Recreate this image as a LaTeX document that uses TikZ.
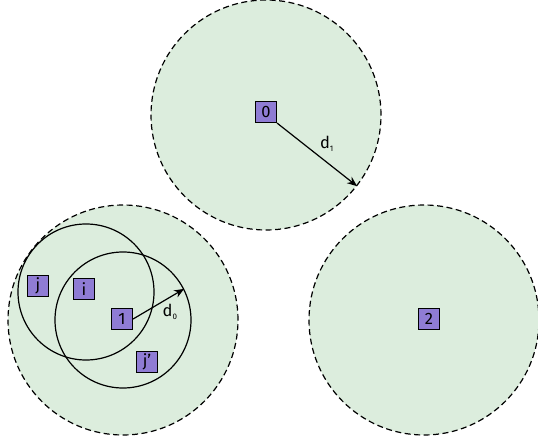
\documentclass[tikz,border=0pt]{standalone}
\usepackage{fontspec}
\setmainfont{Fira Sans}
\usetikzlibrary{arrows.meta}
\definecolor{zonegreen}{RGB}{220,237,221}
\definecolor{cellpurple}{RGB}{143,124,212}
\newcommand{\sub}[1]{\raisebox{-3pt}{\fontsize{8}{8}\selectfont #1}}
\begin{document}
\begin{tikzpicture}[x=1pt,y=-1pt,line width=1.2pt,
    zone/.style={circle,draw,dash pattern=on 6pt off 3.5pt,fill=zonegreen,minimum size=230pt,inner sep=0pt},
    reach/.style={circle,draw,minimum size=136pt,inner sep=0pt},
    cell/.style={draw,fill=cellpurple,minimum size=21pt,inner sep=0pt,font=\fontsize{16.5}{16.5}\selectfont},
    dist/.style={-{Stealth[length=10pt,width=8pt]},line width=1.2pt},
    every node/.style={font=\fontsize{16.5}{16.5}\selectfont}]
  \useasboundingbox (0,0) rectangle (538,444);
  % base stations and their coverage
  \node[zone] (z0) at (266,115) {};
  \node[zone] (z1) at (123,320) {};
  \node[zone] (z2) at (424,320) {};
  % ranges of two users
  \node[reach] (r1) at (86,292) {};
  \node[reach] (r2) at (123,320) {};
  \node[cell] (0) at (266,112) {0};
  \node[cell] (1) at (122,319) {1};
  \node[cell] (2) at (429,319) {2};
  \node[cell] (j) at (38,286) {j};
  \node[cell] (i) at (84,289) {i};
  \node[cell] (jp) at (147,362) {j'};
  \begin{scope}[dist]
    \draw (0.south east) -- (z0.-38) node[pos=.5,above right=-1pt] {d\sub{1}};
    \draw (1.east) -- (r2.27) node[pos=.72,below=3pt] {d\sub{0}};
  \end{scope}
\end{tikzpicture}
\end{document}
